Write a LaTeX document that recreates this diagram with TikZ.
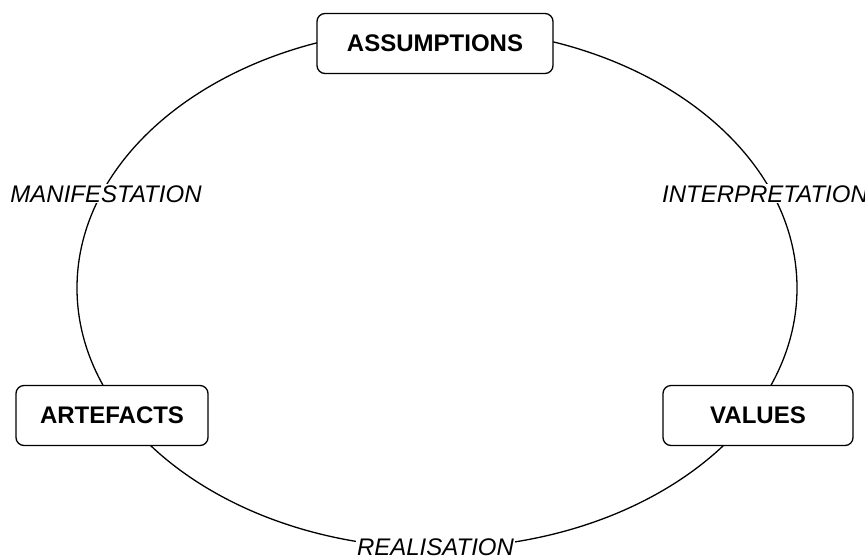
\documentclass[tikz,border=0pt]{standalone}
\usepackage{fontspec}
\setmainfont{Liberation Sans}
\usetikzlibrary{shapes.geometric}
\begin{document}
\begin{tikzpicture}[x=1pt,y=-1pt,
  stage/.style={draw=black, line width=1.3pt, rounded corners=8pt, fill=white,
    minimum height=60pt, inner sep=0pt, font=\fontsize{24}{28}\selectfont\bfseries},
  lbl/.style={fill=white, inner sep=1pt, anchor=base, font=\fontsize{24}{28}\selectfont\itshape},
  cyc/.style={line width=1.3pt}]
\useasboundingbox (0,0) rectangle (865,558);
\node[cyc, draw, ellipse, minimum width=720pt, minimum height=520pt, inner sep=0pt] (cycle) at (437,288) {};
\node[stage, minimum width=236pt] (assumptions) at (435,43.5) {ASSUMPTIONS};
\node[stage, minimum width=192pt] (artefacts) at (112,415.5) {ARTEFACTS};
\node[stage, minimum width=190pt] (values) at (758,415.5) {VALUES};
\node[lbl] (manifestation) at (106,202) {MANIFESTATION};
\node[lbl] (interpretation) at (765,202) {INTERPRETATION};
\node[lbl] (realisation) at (435.5,555) {REALISATION};
\end{tikzpicture}
\end{document}
